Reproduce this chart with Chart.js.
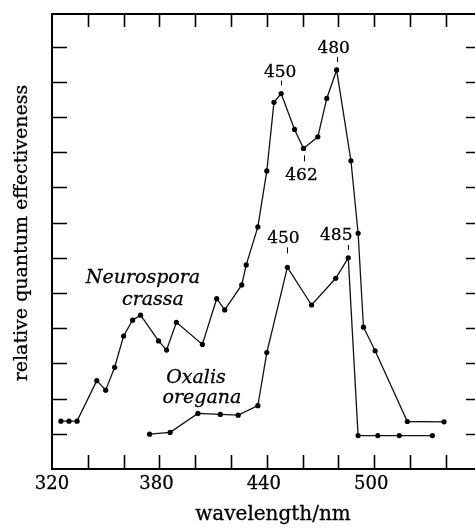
<!DOCTYPE html>
<html lang="en">
<head>
  <meta charset="UTF-8">
  <title>Action spectra</title>
  <script src="https://cdn.jsdelivr.net/npm/chart.js"></script>
  <style>
    html, body { margin: 0; padding: 0; background: #fff; overflow: hidden; }
  </style>
</head>
<body>
  <canvas id="spectrum" width="475" height="531"></canvas>
  <script>
    // Neurospora crassa action spectrum
    const neuroX = [325, 329.5, 334, 345, 350, 355, 360, 365, 369.5, 379.5, 384, 389.5, 404, 412, 416.5,
                    426, 428.5, 435, 440, 444, 448, 455.5, 460.5, 468.5, 473.5, 479, 487, 491, 494, 500.5, 518.5, 539];
    const neuroY = [1.36, 1.36, 1.36, 2.51, 2.24, 2.89, 3.78, 4.23, 4.37, 3.64, 3.38, 4.17, 3.54, 4.84, 4.52,
                    5.23, 5.8, 6.88, 8.47, 10.42, 10.67, 9.65, 9.11, 9.44, 10.53, 11.34, 8.76, 6.70, 4.03, 3.36, 1.35, 1.34];

    // Oxalis oregana action spectrum
    const oxalisX = [374.5, 386, 401.5, 414, 424, 435, 440, 451.5, 465, 478.5, 485.5, 491, 502, 514, 532.5];
    const oxalisY = [0.99, 1.04, 1.58, 1.55, 1.53, 1.80, 3.31, 5.73, 4.66, 5.42, 6.0, 0.95, 0.95, 0.95, 0.95];

    // axes
    const xTicks = [340, 360, 380, 400, 420, 440, 460, 480, 500, 520, 540];
    const xTickLabels = [320, 380, 440, 500];
    const yTicks = [1, 2, 3, 4, 5, 6, 7, 8, 9, 10, 11, 12];

    // peak labels and the points they mark
    const peakText = ['450', '480', '462', '450', '485'];
    const peakAtX = [448, 479, 460.5, 451.5, 485.5];
    const peakAtY = [10.67, 11.34, 9.11, 5.73, 6.0];

    const SERIF = '"DejaVu Serif", "Liberation Serif", serif';
    const peakStyle = [
      { dx: -1, dy: -21, dash: [-13, -8] },
      { dx: -3, dy: -21, dash: [-13, -8] },
      { dx: -2, dy: 27, dash: [7, 13] },
      { dx: -4, dy: -29, dash: [-20, -14] },
      { dx: -12, dy: -22, dash: [-13, -8] }
    ];

    const toPoints = (xs, ys) => xs.map((x, i) => ({ x: x, y: ys[i] }));

    // text a touch heavier, like the printed original
    function label(ctx, text, x, y) {
      ctx.fillText(text, x, y);
      ctx.strokeText(text, x, y);
    }

    const framePlugin = {
      id: 'frame',
      afterDraw(chart) {
        const ctx = chart.ctx;
        const a = chart.chartArea;
        const xs = chart.scales.x, ys = chart.scales.y;
        ctx.save();
        ctx.strokeStyle = '#000';
        ctx.lineWidth = 2;
        // left, bottom and top edges; the right edge falls just outside the picture
        ctx.beginPath();
        ctx.moveTo(a.right, a.top); ctx.lineTo(a.left, a.top);
        ctx.lineTo(a.left, a.bottom); ctx.lineTo(a.right, a.bottom);
        ctx.stroke();

        ctx.lineWidth = 1.6;
        ctx.beginPath();
        xTicks.forEach(v => {
          const px = Math.round(xs.getPixelForValue(v)) + 0.5;
          ctx.moveTo(px, a.bottom); ctx.lineTo(px, a.bottom - 14);
          ctx.moveTo(px, a.top); ctx.lineTo(px, a.top + 13);
        });
        yTicks.forEach(v => {
          const py = Math.round(ys.getPixelForValue(v)) + 0.5;
          ctx.moveTo(a.left, py); ctx.lineTo(a.left + 15, py);
          ctx.moveTo(a.right, py); ctx.lineTo(a.right - 9, py);
        });
        ctx.stroke();

        ctx.fillStyle = '#000';
        ctx.lineWidth = 0.3;
        ctx.textAlign = 'center';
        ctx.textBaseline = 'middle';
        ctx.font = '18px ' + SERIF;
        xTickLabels.forEach(v => {
          label(ctx, String(v), xs.getPixelForValue(v) + (v === 320 ? 0 : -3), a.bottom + 15);
        });
        ctx.font = '20px ' + SERIF;
        label(ctx, 'wavelength/nm', 273, 515);

        ctx.save();
        ctx.font = '19px ' + SERIF;
        ctx.translate(22, 233);
        ctx.rotate(-Math.PI / 2);
        label(ctx, 'relative quantum effectiveness', 0, 0);
        ctx.restore();

        // series names
        ctx.font = 'italic 19px ' + SERIF;
        label(ctx, 'Neurospora', 143, 278);
        label(ctx, 'crassa', 153, 300);
        label(ctx, 'Oxalis', 196, 378);
        label(ctx, 'oregana', 202, 398);

        // peak wavelengths
        ctx.font = '17px ' + SERIF;
        peakText.forEach((t, i) => {
          const px = xs.getPixelForValue(peakAtX[i]);
          const py = ys.getPixelForValue(peakAtY[i]);
          const s = peakStyle[i];
          ctx.lineWidth = 0.3;
          label(ctx, t, px + s.dx, py + s.dy);
          ctx.lineWidth = 1;
          ctx.beginPath();
          ctx.moveTo(Math.round(px) + 0.5, py + s.dash[0]);
          ctx.lineTo(Math.round(px) + 0.5, py + s.dash[1]);
          ctx.stroke();
        });
        ctx.restore();
      }
    };

    const lineStyle = {
      borderColor: '#111',
      borderWidth: 1.3,
      pointRadius: 2.6,
      pointBackgroundColor: '#000',
      pointBorderWidth: 0,
      tension: 0,
      fill: false
    };

    new Chart(document.getElementById('spectrum'), {
      type: 'line',
      data: {
        datasets: [
          Object.assign({ label: 'Neurospora crassa', data: toPoints(neuroX, neuroY) }, lineStyle),
          Object.assign({ label: 'Oxalis oregana', data: toPoints(oxalisX, oxalisY) }, lineStyle)
        ]
      },
      options: {
        responsive: false,
        animation: false,
        devicePixelRatio: 1,
        layout: { autoPadding: false, padding: { left: 52, right: 0, top: 14, bottom: 62 } },
        scales: {
          x: { type: 'linear', min: 320, max: 556.3, display: false },
          y: { min: 0, max: 12.93, display: false }
        },
        plugins: { legend: { display: false }, tooltip: { enabled: false } }
      },
      plugins: [framePlugin]
    });
  </script>
</body>
</html>
